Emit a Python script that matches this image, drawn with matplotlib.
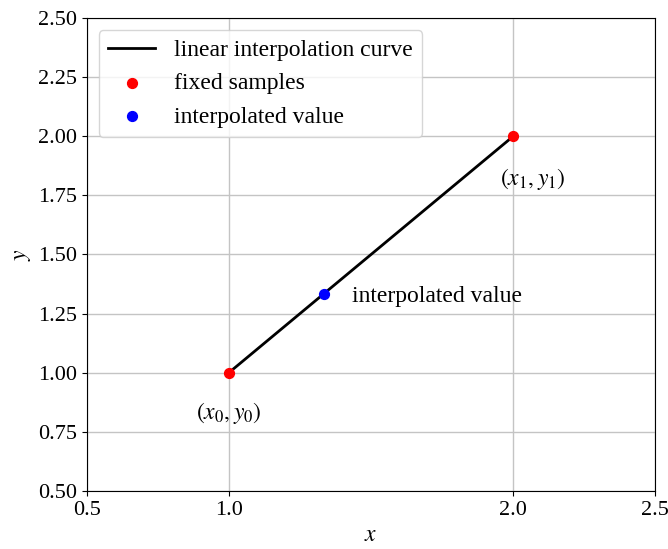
import numpy as np
import matplotlib
matplotlib.use("Agg")
import matplotlib.pyplot as plt

plt.rcParams['font.family'] = ['Liberation Serif', 'DejaVu Serif']
plt.rcParams['mathtext.fontset'] = 'stix'
plt.rcParams['font.size'] = 17
plt.rcParams['xtick.labelsize'] = 16
plt.rcParams['ytick.labelsize'] = 16

# sample points
x_fixed = [1.0, 2.0]
y_fixed = [1.0, 2.0]
x_interp = 4.0 / 3.0
y_interp = np.interp(x_interp, x_fixed, y_fixed)

xticks = [0.5, 1.0, 2.0, 2.5]
yticks = [0.5, 0.75, 1.0, 1.25, 1.5, 1.75, 2.0, 2.25, 2.5]

fig, ax = plt.subplots(figsize=(6.68, 5.49), dpi=100)
fig.subplots_adjust(left=0.130, right=0.981, top=0.967, bottom=0.106)

ax.plot(x_fixed, y_fixed, color='black', lw=2, label='linear interpolation curve', zorder=2)
ax.scatter(x_fixed, y_fixed, color='red', s=50, label='fixed samples', zorder=3)
ax.scatter([x_interp], [y_interp], color='blue', s=50, label='interpolated value', zorder=3)

ax.text(x_fixed[0], y_fixed[0] - 0.17, '$(x_0, y_0)$', ha='center', va='center')
ax.text(x_fixed[1] + 0.07, y_fixed[1] - 0.18, '$(x_1, y_1)$', ha='center', va='center')
ax.text(x_interp + 0.1, y_interp - 0.01, 'interpolated value', ha='left', va='center')

ax.set_xlim(0.5, 2.5)
ax.set_ylim(0.5, 2.5)
ax.set_xticks(xticks)
ax.set_yticks(yticks)
ax.set_xlabel('$x$')
ax.set_ylabel('$y$')
ax.grid(True, color='#c4c4c4', lw=1)
ax.legend(loc='upper left')

fig.savefig('out.png')
